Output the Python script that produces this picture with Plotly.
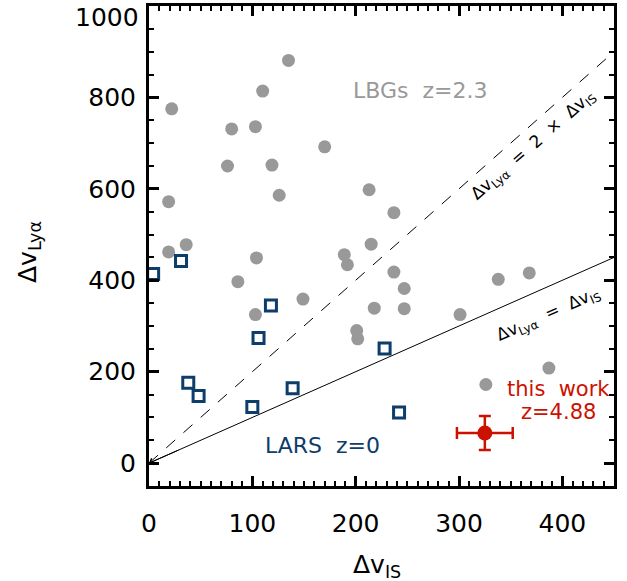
import plotly.graph_objects as go

# LBGs z=2.3
lbg_x = [135, 110, 22, 80, 103, 170, 76, 119, 126, 213, 19, 36, 19, 104, 189, 192,
         86, 149, 103, 201, 202, 215, 237, 247, 218, 247, 301, 338, 368, 387, 326, 237]
lbg_y = [881, 814, 775, 731, 736, 692, 650, 652, 586, 598, 572, 478, 462, 449, 456, 434,
         397, 359, 325, 290, 272, 479, 418, 382, 339, 338, 325, 402, 416, 208, 172, 548]

# LARS z=0
lars_x = [31, 4, 118, 106, 38, 48, 100, 139, 228, 242]
lars_y = [442, 414, 345, 274, 176, 147, 123, 164, 251, 111]

# this work z=4.88
this_x = [325]
this_y = [66]
this_xerr = [27]
this_yerr = [37]

# reference lines
line_x = [0, 450]
ratio_one = [1, 1]
ratio_two = [2, 2]

x_ticks = [0, 100, 200, 300, 400]
y_ticks = [0, 200, 400, 600, 800, 1000]
y_ticktext = ["0", "200", "400", "600", "800", ""]

GRAY = "#999999"
BLUE = "#0d3d6b"
RED = "#cc1100"
FONT = "DejaVu Sans"

fig = go.Figure()

fig.add_trace(go.Scatter(
    x=line_x, y=[a * b for a, b in zip(line_x, ratio_one)], mode="lines",
    line=dict(color="black", width=1), hoverinfo="skip", showlegend=False))
fig.add_trace(go.Scatter(
    x=line_x, y=[a * b for a, b in zip(line_x, ratio_two)], mode="lines",
    line=dict(color="black", width=1, dash="12px,11px"), hoverinfo="skip", showlegend=False))

fig.add_trace(go.Scatter(
    x=lbg_x, y=lbg_y, mode="markers",
    marker=dict(symbol="circle", size=13, color=GRAY, line=dict(width=0)),
    showlegend=False))

fig.add_trace(go.Scatter(
    x=lars_x, y=lars_y, mode="markers",
    marker=dict(symbol="square-open", size=11, color=BLUE, line=dict(width=3, color=BLUE)),
    showlegend=False))

fig.add_trace(go.Scatter(
    x=this_x, y=this_y, mode="markers",
    marker=dict(symbol="circle", size=15, color=RED),
    error_x=dict(type="data", array=this_xerr, color=RED, thickness=2.5, width=6),
    error_y=dict(type="data", array=this_yerr, color=RED, thickness=2.5, width=6),
    showlegend=False))

annotations = [
    dict(x=0, y=0, ax=30, ay=30, xref="x", yref="y", axref="x", ayref="y",
         text="", showarrow=True, arrowhead=4, arrowsize=1.3, arrowwidth=1, arrowcolor="black"),
    dict(x=0, y=1000, xref="paper", yref="y", text="1000", showarrow=False,
         xanchor="right", yanchor="middle", xshift=-8, yshift=-11,
         font=dict(family=FONT, size=25, color="black")),
    dict(x=0.5, y=0, xref="paper", yref="paper", text="Δv<sub>IS</sub>", showarrow=False,
         xanchor="center", yanchor="middle", xshift=-5, yshift=-80,
         font=dict(family=FONT, size=25, color="black")),
    dict(x=0, y=0.5, xref="paper", yref="paper", text="Δv<sub>Lyα</sub>", showarrow=False,
         xanchor="center", yanchor="middle", xshift=-120, yshift=-6, textangle=-90,
         font=dict(family=FONT, size=25, color="black")),
    dict(x=262, y=815, xref="x", yref="y", text="LBGs  z=2.3", showarrow=False,
         font=dict(family=FONT, size=22, color=GRAY)),
    dict(x=168, y=38, xref="x", yref="y", text="LARS  z=0", showarrow=False,
         font=dict(family=FONT, size=22, color=BLUE)),
    dict(x=396, y=163, xref="x", yref="y", text="this  work", showarrow=False,
         font=dict(family=FONT, size=21, color=RED)),
    dict(x=396, y=112, xref="x", yref="y", text="z=4.88", showarrow=False,
         font=dict(family=FONT, size=21, color=RED)),
    dict(x=372, y=694, xref="x", yref="y",
         text="Δv<sub>Lyα</sub>  =  2  ×  Δv<sub>IS</sub>", showarrow=False, textangle=-41,
         font=dict(family=FONT, size=17, color="black")),
    dict(x=387, y=325, xref="x", yref="y",
         text="Δv<sub>Lyα</sub>  =  Δv<sub>IS</sub>", showarrow=False, textangle=-23.7,
         font=dict(family=FONT, size=17, color="black")),
]

fig.update_layout(
    width=627, height=581,
    margin=dict(l=149, r=13, t=6, b=95, autoexpand=False),
    paper_bgcolor="white", plot_bgcolor="white",
    font=dict(family=FONT, size=25, color="black"),
    annotations=annotations,
    showlegend=False,
)

fig.update_xaxes(
    range=[0, 450], tickvals=x_ticks, ticks="inside", ticklen=10, tickwidth=2.5,
    tickcolor="black", showgrid=False, zeroline=False, automargin=False,
    showline=True, linewidth=3, linecolor="black", mirror="allticks",
    minor=dict(dtick=10, tick0=0, ticks="inside", ticklen=5, tickwidth=2, tickcolor="black", showgrid=False),
    tickfont=dict(family=FONT, size=25), ticklabelstandoff=13,
)
fig.update_yaxes(
    range=[-50, 1000], tickvals=y_ticks, ticktext=y_ticktext, ticks="inside", ticklen=10, tickwidth=2.5,
    tickcolor="black", showgrid=False, zeroline=False, automargin=False,
    showline=True, linewidth=3, linecolor="black", mirror="allticks",
    minor=dict(dtick=50, tick0=0, ticks="inside", ticklen=5, tickwidth=2, tickcolor="black", showgrid=False),
    tickfont=dict(family=FONT, size=25), ticklabelstandoff=5,
)

fig.write_html("out.html", config={"displayModeBar": False},
               post_script="document.body.style.margin='0';document.body.style.overflow='hidden';")
